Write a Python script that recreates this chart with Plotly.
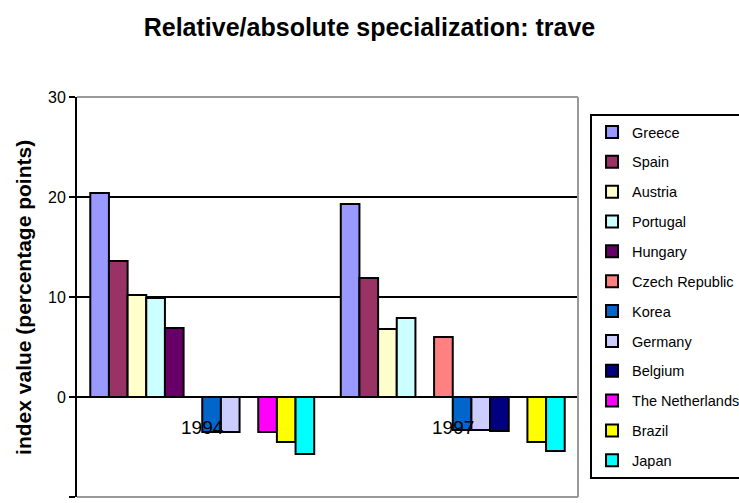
import plotly.graph_objects as go

years = ["1994", "1997"]
countries = ["Greece", "Spain", "Austria", "Portugal", "Hungary", "Czech Republic",
             "Korea", "Germany", "Belgium", "The Netherlands", "Brazil", "Japan"]
colors = ["#9999FF", "#993366", "#FFFFCC", "#CCFFFF", "#660066", "#FF8080",
          "#0066CC", "#CCCCFF", "#000080", "#FF00FF", "#FFFF00", "#00FFFF"]
values_1994 = [20.4, 13.6, 10.2, 9.9, 6.9, None, -3.5, -3.5, None, -3.5, -4.5, -5.7]
values_1997 = [19.3, 11.9, 6.8, 7.9, None, 6.0, -3.3, -3.3, -3.4, None, -4.5, -5.4]
y_ticks = [-10, 0, 10, 20, 30]

FONT = "Arial, Liberation Sans, sans-serif"

fig = go.Figure()
for i, c in enumerate(countries):
    fig.add_trace(go.Bar(
        x=years, y=[values_1994[i], values_1997[i]], name=c,
        legendgroup=c,
        marker=dict(color=colors[i], line=dict(color="black", width=2)),
    ))

# category labels next to the zero axis (category index positions)
for idx, yr in enumerate(years):
    fig.add_annotation(x=idx, y=0, yref="y", xref="x", text=yr, showarrow=False,
                       yanchor="middle", yshift=-30,
                       font=dict(family=FONT, size=19, color="black"))

# y-axis title
fig.add_annotation(x=-0.108, y=0.5, xref="paper", yref="paper",
                   text="<b>index value (percentage points)</b>", textangle=-90,
                   showarrow=False, xanchor="center", yanchor="middle",
                   font=dict(family=FONT, size=21, color="black"))

# gray plot border (top, right, bottom)
for x0, y0, x1, y1 in [(0, 1, 1, 1), (1, 0, 1, 1), (0, 0, 1, 0)]:
    fig.add_shape(type="line", xref="paper", yref="paper", x0=x0, y0=y0, x1=x1, y1=y1,
                  line=dict(color="#999999", width=2), layer="above")

fig.update_layout(
    width=739, height=503,
    margin=dict(l=77, r=161, t=97, b=6, autoexpand=False),
    paper_bgcolor="white", plot_bgcolor="white",
    barmode="group", bargap=0.106, bargroupgap=0,
    title=dict(text="<b>Relative/absolute specialization: trave</b>",
               x=0.5, xanchor="center", y=0.945, yanchor="middle",
               font=dict(family=FONT, size=25, color="black")),
    xaxis=dict(type="category", range=[-0.5, 1.5], showticklabels=False,
               showgrid=False, zeroline=False, ticks="", showline=False),
    yaxis=dict(range=[-10, 30], tickvals=y_ticks, ticks="outside", ticklen=6,
               tickwidth=2, tickcolor="black", showline=True, linecolor="black",
               linewidth=2, showgrid=True, gridcolor="black", gridwidth=1.5,
               zeroline=True, zerolinecolor="black", zerolinewidth=2,
               tickfont=dict(family=FONT, size=16, color="black")),
    legend=dict(x=1.024, y=0.9575, xanchor="left", yanchor="top",
                bordercolor="black", borderwidth=2, bgcolor="white",
                tracegroupgap=8, traceorder="grouped",
                font=dict(family=FONT, size=14.5, color="black")),
    showlegend=True,
)

fig.write_html("out.html")
